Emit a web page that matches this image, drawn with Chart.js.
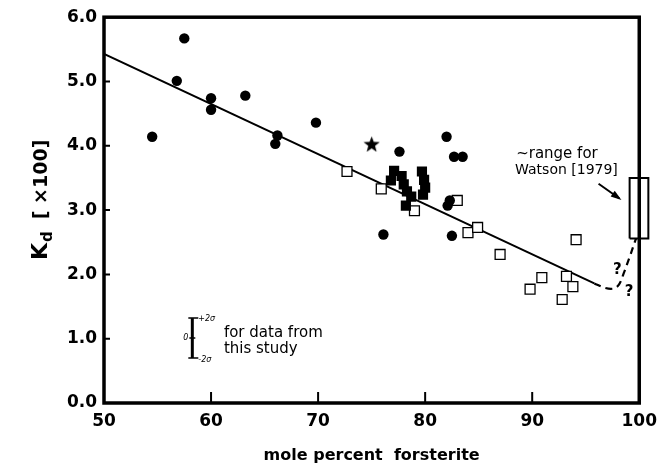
<!DOCTYPE html>
<html>
<head>
<meta charset="utf-8">
<script src="https://cdn.jsdelivr.net/npm/chart.js@4.4.0/dist/chart.umd.min.js"></script>
<style>
  html, body { margin: 0; padding: 0; background: #fff; }
  #wrap { width: 665px; height: 471px; }
</style>
</head>
<body>
<div id="wrap"><canvas id="c" width="665" height="471"></canvas></div>
<script>
// Axis ranges and tick labels
const xTickValues = [50, 60, 70, 80, 90, 100];
const yTickValues = [0, 1, 2, 3, 4, 5, 6];

// Filled circles
const circleX = [54.5, 56.8, 57.5, 60.0, 60.0, 63.2, 66.0, 66.2, 69.8, 77.6, 82.0, 82.7, 83.5, 82.3, 82.1, 76.1, 82.5];
const circleY = [4.14, 5.01, 5.67, 4.74, 4.56, 4.78, 4.03, 4.16, 4.36, 3.91, 4.14, 3.83, 3.83, 3.15, 3.07, 2.62, 2.60];

// Star
const starX = [75.0];
const starY = [4.03];

// Filled squares (data from this study)
const filledSqX = [77.1, 76.8, 77.8, 78.0, 78.3, 78.7, 79.7, 79.9, 80.0, 79.8, 78.2];
const filledSqY = [3.61, 3.46, 3.53, 3.40, 3.29, 3.21, 3.60, 3.47, 3.35, 3.24, 3.07];

// Open squares
const openSqX = [72.7, 75.9, 79.0, 83.0, 84.0, 84.9, 87.0, 89.8, 90.9, 92.8, 93.2, 93.8, 94.1];
const openSqY = [3.60, 3.33, 2.99, 3.15, 2.65, 2.73, 2.31, 1.77, 1.95, 1.61, 1.97, 1.81, 2.54];

// Fitted trend line
const fitX = [50, 95.8];
const fitY = [5.43, 1.86];

// Uncertain extension toward pure forsterite
const extX = [95.8, 96.8, 97.6, 98.1, 98.6, 99.1, 99.7];
const extY = [1.86, 1.79, 1.78, 1.84, 2.04, 2.27, 2.56];

// Range for Watson (1979)
const watsonX = [99.1, 100.85, 100.85, 99.1, 99.1];
const watsonY = [2.56, 2.56, 3.50, 3.50, 2.56];

const pts = (xs, ys) => xs.map((x, i) => ({ x: x, y: ys[i] }));

// filled five-point star marker
function makeStar(size) {
  const cv = document.createElement('canvas');
  cv.width = size; cv.height = size;
  const g = cv.getContext('2d');
  const cx = size / 2, cy = size / 2 + 1, ro = size / 2, ri = ro * 0.42;
  g.beginPath();
  for (let i = 0; i < 10; i++) {
    const r = i % 2 === 0 ? ro : ri;
    const a = -Math.PI / 2 + i * Math.PI / 5;
    const px = cx + r * Math.cos(a), py = cy + r * Math.sin(a);
    if (i === 0) g.moveTo(px, py); else g.lineTo(px, py);
  }
  g.closePath();
  g.fillStyle = '#000';
  g.fill();
  return cv;
}

const FONT = '"DejaVu Sans", "Liberation Sans", Arial, sans-serif';

const decorations = {
  id: 'decorations',
  afterDraw(chart) {
    const ctx = chart.ctx;
    const xs = chart.scales.x, ys = chart.scales.y;
    const X = v => xs.getPixelForValue(v);
    const Y = v => ys.getPixelForValue(v);
    const a = chart.chartArea;
    ctx.save();
    ctx.strokeStyle = '#000';
    ctx.fillStyle = '#000';

    // frame
    ctx.lineWidth = 3.5;
    ctx.strokeRect(a.left, a.top, a.right - a.left, a.bottom - a.top);

    // inward ticks
    ctx.lineWidth = 2;
    ctx.beginPath();
    yTickValues.slice(1, -1).forEach(v => {
      ctx.moveTo(a.left, Y(v)); ctx.lineTo(a.left + 6, Y(v));
    });
    xTickValues.slice(1, -1).forEach(v => {
      ctx.moveTo(X(v), a.bottom); ctx.lineTo(X(v), a.bottom - 11);
    });
    ctx.stroke();

    // y-axis title: K_d [×100]
    ctx.save();
    ctx.translate(47, 0);
    ctx.rotate(-Math.PI / 2);
    ctx.textBaseline = 'alphabetic';
    ctx.textAlign = 'left';
    let u = -260;
    ctx.font = 'bold 22px ' + FONT;
    ctx.fillText('K', u, 0);
    u += ctx.measureText('K').width + 1;
    ctx.font = 'bold 15px ' + FONT;
    ctx.fillText('d', u, 5);
    u += ctx.measureText('d').width + 12;
    ctx.font = 'bold 19px ' + FONT;
    ctx.fillText('[ \u00d7100]', u, 0);
    ctx.restore();

    // Watson annotation
    ctx.textBaseline = 'alphabetic';
    ctx.textAlign = 'left';
    ctx.font = '15px ' + FONT;
    ctx.fillText('~range for', X(88.5), Y(3.81));
    ctx.font = '14px ' + FONT;
    ctx.fillText('Watson [1979]', X(88.4), Y(3.56));

    // arrow
    const x1 = X(96.2), y1 = Y(3.41), x2 = X(98.15), y2 = Y(3.18);
    ctx.lineWidth = 2;
    ctx.beginPath(); ctx.moveTo(x1, y1); ctx.lineTo(x2, y2); ctx.stroke();
    const ang = Math.atan2(y2 - y1, x2 - x1);
    ctx.beginPath();
    ctx.moveTo(x2 + 2, y2 + 2 * Math.tan(ang));
    ctx.lineTo(x2 - 9 * Math.cos(ang - 0.4), y2 - 9 * Math.sin(ang - 0.4));
    ctx.lineTo(x2 - 9 * Math.cos(ang + 0.4), y2 - 9 * Math.sin(ang + 0.4));
    ctx.closePath(); ctx.fill();

    // question marks
    ctx.font = 'bold 15px ' + FONT;
    ctx.textAlign = 'center';
    ctx.textBaseline = 'middle';
    ctx.fillText('?', X(97.95), Y(2.06));
    ctx.fillText('?', X(99.05), Y(1.72));

    // error-bar key
    const bx = X(58.25), bt = Y(1.32), bb = Y(0.70), bm = Y(1.01);
    ctx.lineWidth = 3;
    ctx.beginPath(); ctx.moveTo(bx, bt); ctx.lineTo(bx, bb); ctx.stroke();
    ctx.lineWidth = 1.5;
    ctx.beginPath();
    ctx.moveTo(bx - 4, bt); ctx.lineTo(bx + 6, bt);
    ctx.moveTo(bx - 4, bb); ctx.lineTo(bx + 6, bb);
    ctx.moveTo(bx - 3, bm); ctx.lineTo(bx + 3, bm);
    ctx.stroke();
    ctx.font = 'italic 8px ' + FONT;
    ctx.textAlign = 'left';
    ctx.textBaseline = 'middle';
    ctx.fillText('+2\u03c3', bx + 6, bt + 1);
    ctx.fillText('-2\u03c3', bx + 6, bb + 2);
    ctx.textAlign = 'right';
    ctx.fillText('0', bx - 4, bm);
    ctx.font = '15px ' + FONT;
    ctx.textAlign = 'left';
    ctx.textBaseline = 'alphabetic';
    ctx.fillText('for data from', X(61.2), Y(1.03));
    ctx.fillText('this study', X(61.2), Y(0.78));

    ctx.restore();
  }
};

new Chart(document.getElementById('c'), {
  type: 'scatter',
  data: {
    datasets: [
      { data: pts(circleX, circleY), pointStyle: 'circle', pointRadius: 5.2,
        backgroundColor: '#000', borderColor: '#000', borderWidth: 0 },
      { data: pts(starX, starY), pointStyle: makeStar(17), pointRadius: 8 },
      { data: pts(filledSqX, filledSqY), pointStyle: 'rect', pointRadius: 7.2,
        backgroundColor: '#000', borderColor: '#000', borderWidth: 0 },
      { data: pts(openSqX, openSqY), pointStyle: 'rect', pointRadius: 7,
        backgroundColor: '#fff', borderColor: '#000', borderWidth: 1.3 },
      { type: 'line', data: pts(fitX, fitY), borderColor: '#000', borderWidth: 2,
        pointRadius: 0, fill: false },
      { type: 'line', data: pts(extX, extY), borderColor: '#000', borderWidth: 2.2,
        borderDash: [7, 5], pointRadius: 0, tension: 0.35, fill: false, clip: false },
      { type: 'line', data: pts(watsonX, watsonY), borderColor: '#000', borderWidth: 2,
        pointRadius: 0, tension: 0, fill: false, clip: false }
    ]
  },
  options: {
    responsive: false,
    animation: false,
    devicePixelRatio: 1,
    layout: { padding: { left: 0, right: 22, top: 16, bottom: 0 } },
    plugins: { legend: { display: false }, tooltip: { enabled: false } },
    scales: {
      x: {
        type: 'linear', min: 50, max: 100,
        afterBuildTicks: s => { s.ticks = xTickValues.map(v => ({ value: v })); },
        afterFit: s => { s.height = 68; },
        grid: { display: false, drawTicks: false },
        border: { display: false },
        ticks: { padding: 8, color: '#000', maxRotation: 0,
          font: { family: FONT, size: 17, weight: 'bold' } },
        title: { display: true, text: 'mole percent  forsterite', color: '#000',
          padding: { top: 0, bottom: 6 }, font: { family: FONT, size: 16, weight: 'bold' } }
      },
      y: {
        type: 'linear', min: 0, max: 6,
        afterBuildTicks: s => { s.ticks = yTickValues.map(v => ({ value: v })); },
        afterFit: s => { s.width = 104; },
        grid: { display: false, drawTicks: false },
        border: { display: false },
        ticks: { padding: 7, color: '#000', callback: v => v.toFixed(1),
          font: { family: FONT, size: 17, weight: 'bold' } }
      }
    }
  },
  plugins: [decorations]
});
</script>
</body>
</html>
